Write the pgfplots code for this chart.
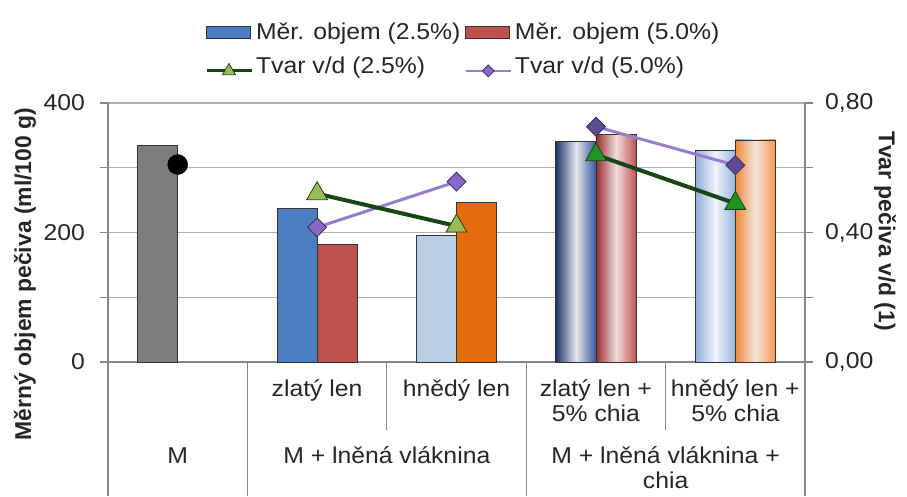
\documentclass[border=0pt]{standalone}
\usepackage{pgfplots}
\pgfplotsset{compat=1.18}
\usepackage{fontspec}
\setmainfont{Liberation Sans}[FakeStretch=1.08]
\newfontfamily\vlab{Liberation Sans}
\definecolor{txt}{RGB}{38,38,38}
\definecolor{axgray}{RGB}{134,134,134}
\definecolor{gridgray}{RGB}{175,175,175}
\definecolor{mgray}{RGB}{125,125,125}
\definecolor{cblue}{RGB}{74,126,193}
\definecolor{cred}{RGB}{192,80,77}
\definecolor{clblue}{RGB}{185,205,229}
\definecolor{corange}{RGB}{228,108,10}
\definecolor{gnavyL}{RGB}{30,55,105}
\definecolor{gnavyR}{RGB}{60,90,155}
\definecolor{gnavyM}{RGB}{228,230,238}
\definecolor{gredL}{RGB}{150,45,48}
\definecolor{gredR}{RGB}{190,85,85}
\definecolor{gredM}{RGB}{242,220,220}
\definecolor{glbL}{RGB}{145,175,218}
\definecolor{glbR}{RGB}{150,180,222}
\definecolor{glbM}{RGB}{240,243,250}
\definecolor{gorL}{RGB}{238,135,60}
\definecolor{gorR}{RGB}{245,150,80}
\definecolor{gorM}{RGB}{246,230,218}
\definecolor{dkgreen}{RGB}{22,70,22}
\definecolor{lgreen}{RGB}{155,187,89}
\definecolor{mgreen}{RGB}{30,150,30}
\definecolor{cpurple}{RGB}{150,125,205}
\definecolor{dpurpleA}{RGB}{135,105,195}
\definecolor{dpurpleB}{RGB}{95,75,145}
\definecolor{poutline}{RGB}{60,45,100}
\newcommand{\tf}{\fontsize{23}{25}\selectfont}
\tikzset{
  barL/.style={ybar, bar width=0.287, bar shift=-0.1435, draw=black!80, line width=0.8bp},
  barR/.style={ybar, bar width=0.287, bar shift=0.1435, draw=black!80, line width=0.8bp},
  tabline/.style={axgray, line width=1.2bp},
  tab/.style={font=\tf, text=txt, inner sep=0pt, anchor=base},
}
\pgfplotsset{
  mylegline/.style={legend image code/.code={\draw[mark repeat=2, mark phase=2, ##1] plot coordinates {(0bp,-3bp) (22.5bp,-3bp) (45bp,-3bp)};}},
}
\begin{document}
\begin{tikzpicture}
\begin{axis}[name=ax, scale only axis, width=697bp, height=259bp,
  xmin=0, xmax=5, ymin=0, ymax=400, clip=false,
  axis x line*=bottom, axis y line*=left,
  axis line style={axgray, line width=1.2bp},
  xtick=\empty,
  ytick={0,100,200,300,400}, yticklabels={0,,200,,400},
  ymajorgrids, grid style={gridgray, line width=1.2bp},
  tick align=outside, major tick length=8bp,
  tick style={axgray, line width=1.2bp},
  yticklabel style={inner sep=0pt, xshift=-15bp, font=\tf, text=txt},
  /pgf/number format/assume math mode=true,
]
\addplot[barL, fill=mgray] coordinates {(0.5,334)};
\addplot[barL, fill=cblue] coordinates {(1.5,237)};
\addplot[barR, fill=cred] coordinates {(1.5,182)};
\addplot[barL, fill=clblue] coordinates {(2.5,195)};
\addplot[barR, fill=corange] coordinates {(2.5,246)};
\addplot[barL, left color=gnavyL, right color=gnavyR, middle color=gnavyM] coordinates {(3.5,341)};
\addplot[barR, left color=gredL, right color=gredR, middle color=gredM] coordinates {(3.5,352)};
\addplot[barL, left color=glbL, right color=glbR, middle color=glbM] coordinates {(4.5,327)};
\addplot[barR, left color=gorL, right color=gorR, middle color=gorM] coordinates {(4.5,343)};
% category table
\draw[tabline] (axis cs:0,0) -- ++(0,-134bp);
\draw[tabline] (axis cs:1,0) -- ++(0,-134bp);
\draw[tabline] (axis cs:2,0) -- ++(0,-68bp);
\draw[tabline] (axis cs:3,0) -- ++(0,-134bp);
\draw[tabline] (axis cs:4,0) -- ++(0,-68bp);
\draw[tabline] (axis cs:5,0) -- ++(0,-134bp);
\node[tab] at ([yshift=-34bp]axis cs:1.5,0) {zlatý len};
\node[tab] at ([yshift=-34bp]axis cs:2.5,0) {hnědý len};
\node[tab] at ([yshift=-34bp]axis cs:3.5,0) {zlatý len +};
\node[tab] at ([yshift=-59bp]axis cs:3.5,0) {5\% chia};
\node[tab] at ([yshift=-34bp]axis cs:4.5,0) {hnědý len +};
\node[tab] at ([yshift=-59bp]axis cs:4.5,0) {5\% chia};
\node[tab] at ([yshift=-101bp]axis cs:0.5,0) {M};
\node[tab] at ([yshift=-101bp]axis cs:2,0) {M + lněná vláknina};
\node[tab] at ([yshift=-101bp]axis cs:4,0) {M + lněná vláknina +};
\node[tab] at ([yshift=-126bp]axis cs:4,0) {chia};
\end{axis}
\begin{axis}[scale only axis, width=697bp, height=259bp,
  xmin=0, xmax=5, ymin=0, ymax=0.8, clip=false,
  axis x line=none, axis y line*=right,
  axis line style={axgray, line width=1.2bp},
  ytick={0,0.2,0.4,0.6,0.8}, yticklabels={{0,00},{},{0,40},{},{0,80}},
  tick align=outside, major tick length=8bp,
  tick style={axgray, line width=1.2bp},
  yticklabel style={inner sep=0pt, xshift=12bp, font=\tf, text=txt},
  /pgf/number format/assume math mode=true,
  legend columns=2, legend cell align=left,
  legend style={at={(0.1392,1.309)}, anchor=north west, draw=none, fill=none,
    inner sep=0pt, outer sep=0pt, row sep=12bp, font=\tf, text=txt,
    nodes={inner sep=0pt, text height=17bp, text depth=5bp},
    /tikz/every odd column/.append style={column sep=3bp},
    /tikz/every even column/.append style={column sep=4bp}},
]
\addlegendimage{legend image code/.code={\draw[fill=cblue, draw=black!80, line width=0.8bp] (0bp,-4bp) rectangle (44bp,8bp);}}
\addlegendentry{Měr. objem (2.5\%)}
\addlegendimage{legend image code/.code={\draw[fill=cred, draw=black!80, line width=0.8bp] (0bp,-4bp) rectangle (44bp,8bp);}}
\addlegendentry{Měr. objem (5.0\%)}
\addlegendimage{dkgreen, line width=3bp, mark=triangle*, mark size=7.5bp,
  mark options={fill=lgreen, draw=dkgreen, line width=0.8bp}, mylegline}
\addlegendentry{Tvar v/d (2.5\%)}
\addlegendimage{cpurple, line width=2.5bp, mark=square*, mark size=4.2bp,
  mark options={rotate=45, fill=dpurpleA, draw=poutline, line width=0.8bp}, mylegline}
\addlegendentry{Tvar v/d (5.0\%)}
% Tvar v/d (5.0%)
\addplot[forget plot, cpurple, line width=3bp, mark=square*, mark size=6.7bp,
  mark options={rotate=45, fill=dpurpleA, draw=poutline, line width=0.8bp}]
  coordinates {(1.5,0.416) (2.5,0.557)};
\addplot[forget plot, cpurple, line width=3bp, mark=square*, mark size=6.7bp,
  mark options={rotate=45, fill=dpurpleB, draw=poutline, line width=0.8bp}]
  coordinates {(3.5,0.727) (4.5,0.608)};
% Tvar v/d (2.5%)
\addplot[forget plot, dkgreen, line width=4bp, mark=triangle*, mark size=12bp,
  mark options={fill=lgreen, draw=dkgreen, line width=0.8bp}]
  coordinates {(1.5,0.52) (2.5,0.42)};
\addplot[forget plot, dkgreen, line width=4bp, mark=triangle*, mark size=12bp,
  mark options={fill=mgreen, draw=dkgreen, line width=0.8bp}]
  coordinates {(3.5,0.64) (4.5,0.49)};
% M
\addplot[forget plot, only marks, mark=*, mark size=10bp, black] coordinates {(0.5,0.61)};
\end{axis}
\node[rotate=90, font=\vlab\bfseries\fontsize{23}{25}\selectfont, text=txt, inner sep=0pt]
  at ([xshift=-83bp,yshift=88bp]ax.south west) {Měrný objem pečiva (ml/100 g)};
\node[rotate=-90, font=\vlab\bfseries\fontsize{23}{25}\selectfont, text=txt, inner sep=0pt]
  at ([xshift=80bp,yshift=131bp]ax.south east) {Tvar pečiva v/d (1)};
\pgfresetboundingbox
\useasboundingbox ([xshift=-108bp,yshift=-134bp]ax.south west) rectangle ([xshift=102bp,yshift=103bp]ax.north east);
\end{tikzpicture}
\end{document}
